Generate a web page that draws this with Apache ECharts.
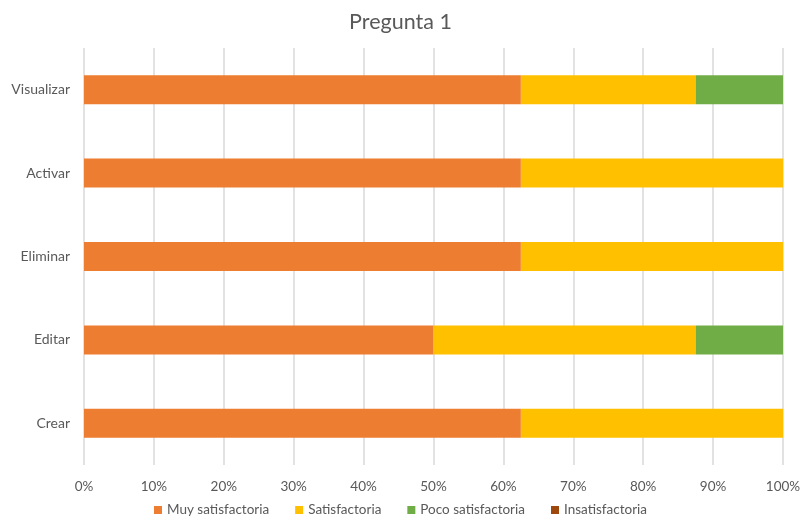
<!DOCTYPE html>
<html>
<head>
<meta charset="utf-8">
<script src="https://cdn.jsdelivr.net/npm/echarts@6/dist/echarts.min.js"></script>
<style>html,body{margin:0;padding:0;background:#fff;}#c{width:801px;height:525px;}</style>
</head>
<body>
<div id="c"></div>
<script>
const categories = ['Crear', 'Editar', 'Eliminar', 'Activar', 'Visualizar'];
const seriesNames = ['Muy satisfactoria', 'Satisfactoria', 'Poco satisfactoria', 'Insatisfactoria'];
const muySatisfactoria = [62.5, 50, 62.5, 62.5, 62.5];
const satisfactoria = [37.5, 37.5, 37.5, 37.5, 25];
const pocoSatisfactoria = [0, 12.5, 0, 0, 12.5];
const insatisfactoria = [0, 0, 0, 0, 0];
const colors = ['#ED7D31', '#FFC000', '#70AD47', '#9E480E'];
const values = [muySatisfactoria, satisfactoria, pocoSatisfactoria, insatisfactoria];

const font = 'Lato, "Open Sans", sans-serif';
const chart = echarts.init(document.getElementById('c'));
chart.setOption({
  animation: false,
  title: {
    text: 'Pregunta 1', left: 'center', top: 6,
    textStyle: { fontFamily: font, fontSize: 21.5, fontWeight: 'normal', color: '#595959' }
  },
  legend: {
    bottom: 3, left: 'center', itemWidth: 8, itemHeight: 8, itemGap: 26, icon: 'rect',
    textStyle: { fontFamily: font, fontSize: 13.5, color: '#595959' },
    data: seriesNames
  },
  grid: { left: 84, right: 18, top: 48, bottom: 60, containLabel: false, outerBoundsMode: 'none' },
  xAxis: {
    type: 'value', min: 0, max: 100, interval: 10,
    axisLabel: { formatter: '{value}%', fontFamily: font, fontSize: 13.5, color: '#595959', margin: 15 },
    splitLine: { lineStyle: { color: '#d9d9d9', width: 1.5 } },
    axisLine: { show: false }, axisTick: { show: false }
  },
  yAxis: {
    type: 'category', data: categories,
    axisLabel: { fontFamily: font, fontSize: 14, color: '#595959', margin: 14 },
    axisLine: { show: false }, axisTick: { show: false }
  },
  series: seriesNames.map((n, i) => ({
    name: n, type: 'bar', stack: 'total', barWidth: 29,
    itemStyle: { color: colors[i] },
    data: values[i]
  }))
});
</script>
</body>
</html>
